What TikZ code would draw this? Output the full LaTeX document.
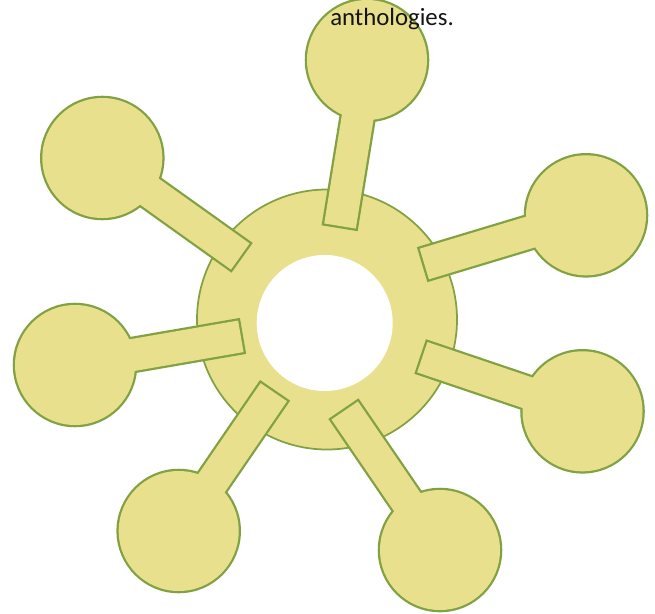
\documentclass[tikz,border=0pt]{standalone}
\usepackage{fontspec}
\setmainfont{Carlito}
\usepackage{tikz}
\usetikzlibrary{calc}
\definecolor{hubFill}{RGB}{232,224,141}
\definecolor{hubLine}{RGB}{128,162,66}
\definecolor{quoteText}{RGB}{20,20,20}

\tikzset{
  rim/.style={draw=hubLine, line width=3.4pt, line join=miter},
  body/.style={fill=hubFill},
}
% one spoke: inner end, satellite centre, radius
\newcommand{\hubspoke}[3]{%
  \coordinate (P) at #1;
  \coordinate (C) at #2;
  \coordinate (PL) at ($(P)!12pt!90:(C)$);
  \coordinate (PR) at ($(P)!12pt!-90:(C)$);
  \coordinate (CR) at ($(C)!12pt!90:(P)$);
  \coordinate (CL) at ($(C)!12pt!-90:(P)$);
  \draw[rim] (PL)--(PR)--(CR)--(CL)--cycle;
  \draw[rim] (C) circle (#3);
  \fill[body] (PL)--(PR)--(CR)--(CL)--cycle;
  \fill[body] (C) circle (#3);
}

\begin{document}
\begin{tikzpicture}[x=0.75pt,y=-0.75pt]
\useasboundingbox (0,0) rectangle (655,613);

% ring
\coordinate (hub) at (327,319.5);
\draw[hubLine, fill=hubFill, line width=1.3pt] (hub) circle (130);
\fill[white] (324.7,323) circle (68);

% spokes
\hubspoke{(340,226)}{(367,60)}{60}
\hubspoke{(240.3,256.5)}{(102.3,158)}{60}
\hubspoke{(424.3,264)}{(586,215.3)}{60}
\hubspoke{(240.8,336.3)}{(75,365)}{60}
\hubspoke{(422.3,357.2)}{(582.5,411.3)}{60}
\hubspoke{(273.8,392.2)}{(178.7,531)}{60}
\hubspoke{(344.7,410.5)}{(440,550)}{60}

\node[anchor=base west, inner sep=0, text=quoteText,
      font=\fontsize{18.6}{22}\selectfont] (quote) at (330,26) {anthologies.};
\end{tikzpicture}
\end{document}
